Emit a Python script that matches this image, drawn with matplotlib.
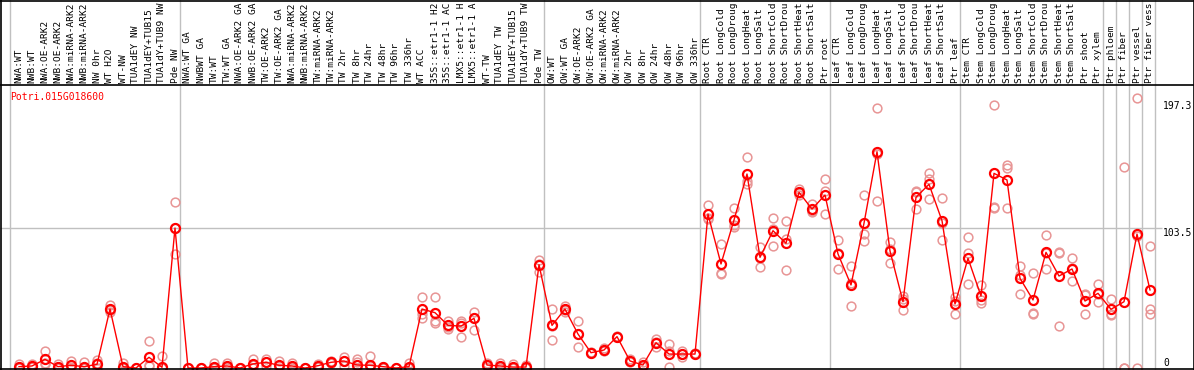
import matplotlib
matplotlib.use("Agg")
import matplotlib.pyplot as plt
from matplotlib.lines import Line2D
import numpy as np

W, H = 1194, 370
HDR = 85          # header height in px
MONO = "DejaVu Sans Mono"

gene = "Potri.015G018600"

labels = [
    "NWA:WT", "NWB:WT", "NWA:OE-ARK2", "NWB:OE-ARK2", "NWA:miRNA-ARK2", "NWB:miRNA-ARK2",
    "NW 0hr", "WT H2O", "WT-NW", "TUA1dEY NW", "TUA1dEY+TUB15 NW", "TUA1dY+TUB9 NW", "Pde NW",
    "NWA:WT GA", "NWBWT GA", "TW:WT", "TW:WT GA", "NWA:OE-ARK2 GA", "NWB:OE-ARK2 GA",
    "TW:OE-ARK2", "TW:OE-ARK2 GA", "NWA:miRNA-ARK2", "NWB:miRNA-ARK2", "TW:miRNA-ARK2",
    "TW:miRNA-ARK2", "TW 2hr", "TW 8hr", "TW 24hr", "TW 48hr", "TW 96hr", "TW 336hr",
    "WT ACC", "35S::etr1-1 H2O", "35S::etr1-1 ACC", "LMX5::etr1-1 H2O", "LMX5::etr1-1 ACC",
    "WT-TW", "TUA1dEY TW", "TUA1dEY+TUB15 TW", "TUA1dY+TUB9 TW", "Pde TW",
    "OW:WT", "OW:WT GA", "OW:OE-ARK2", "OW:OE-ARK2 GA", "OW:miRNA-ARK2", "OW:miRNA-ARK2",
    "OW 2hr", "OW 8hr", "OW 24hr", "OW 48hr", "OW 96hr", "OW 336hr",
    "Root CTR", "Root LongCold", "Root LongDrought", "Root LongHeat", "Root LongSalt",
    "Root ShortCold", "Root ShortDrought", "Root ShortHeat", "Root ShortSalt", "Ptr root",
    "Leaf CTR", "Leaf LongCold", "Leaf LongDrought", "Leaf LongHeat", "Leaf LongSalt",
    "Leaf ShortCold", "Leaf ShortDrought", "Leaf ShortHeat", "Leaf ShortSalt", "Ptr leaf",
    "Stem CTR", "Stem LongCold", "Stem LongDrought", "Stem LongHeat", "Stem LongSalt",
    "Stem ShortCold", "Stem ShortDrought", "Stem ShortHeat", "Stem ShortSalt", "Ptr shoot",
    "Ptr xylem", "Ptr phloem", "Ptr fiber", "Ptr vessel", "Ptr fiber vessel",
]

means = [
    1, 1.5, 6.4, 1, 2, 1, 2.7, 43.6, 1, 0, 7.9, 0.5, 103.5,
    0, 0, 1, 1.5, 0, 3, 4.2, 2, 1.5, 0, 1.7, 4.2, 5.2, 2.2, 2, 1, 0, 1,
    43.6, 40.9, 31.5, 31, 36.7, 2.2, 1.5, 0.7, 0.7, 76.4,
    31.5, 43.6, 25.1, 11.3, 13.3, 23.2, 5.2, 2.2, 18.7, 10.3, 10.3, 10.3,
    113.8, 76.9, 109.4, 143.4, 81.8, 101.5, 92.2, 129.9, 117.5, 127.9,
    84.3, 61.4, 107, 159.9, 86.5, 49, 126.2, 135.8, 108.9, 47.3,
    81.1, 53.2, 143.9, 139, 66.3, 50.3, 85.5, 68, 73.2, 49.5,
    55.2, 43.4, 49, 99, 57.7,
]

rep_a = [
    3, 3, 12.6, 3, 5, 4.5, 6, 46.5, 4, 0, 20, 8.9, 122.7,
    0, 0, 4, 4, 0, 6.9, 6.9, 5.5, 4, 0, 3, 5, 8.4, 6.4, 9, 1, 0, 3.5,
    52.3, 52.3, 35, 34.5, 41.6, 3.5, 4, 3, 2.2, 79.8,
    43.6, 46.1, 35, 11, 14.8, 23.2, 6.5, 4.5, 21.2, 18, 12.3, 11,
    120.5, 91.7, 118, 155.7, 89.7, 110.7, 108.4, 132.1, 121, 139.4,
    94.6, 75.4, 127.9, 192, 93.4, 53, 131, 143.9, 125.5, 52.3,
    96.6, 61.4, 194.4, 150, 75.4, 70.5, 98.3, 86, 81.1, 54.7,
    62.1, 50.8, 148.3, 199.3, 90.2,
]

rep_b = [
    1, 1, 3, 0.5, 1, 0, 4, 41.6, 0, 0, 1.5, 0, 84,
    0, 0, 0, 0, 0, 2, 1.5, 1.5, 0.5, 0, 1, 4, 1.5, 4.5, 1.5, 0.5, 0, 0,
    36.7, 35, 29, 23, 28, 2, 1, 0, 0, 71.2,
    20.7, 41.6, 15.8, 11.5, 12.3, 23, 4.5, 0.5, 15.8, 12.3, 8.4, 10,
    109.9, 70, 104.5, 136, 74.4, 90.2, 72.4, 128, 115.6, 113.8,
    73.2, 45.8, 94.1, 123.5, 77.9, 42.9, 117.5, 139.4, 107, 40,
    85.3, 47.8, 118.8, 147.6, 54.7, 40, 72.9, 85, 64.3, 40,
    48.5, 40, 0, 0, 43.6,
]

rep_c = [
    0, 0.5, 3.5, 0, 0, 0, 0, 42.7, 0, 0, 2, 0, 103.8,
    0, 0, 0, 0.5, 0, 0, 4.2, 0, 0, 0, 1, 3.5, 5.5, 0, 0, 0, 0, 0,
    40, 33, 30, 33, 37, 1, 0, 0, 0, 77,
    31, 43, 25, 11.3, 13, 23.5, 5, 1.5, 19, 0.5, 10, 10,
    111, 69.5, 106, 138, 81, 103, 95, 129.5, 116, 131,
    85, 63, 99, 158, 88, 51, 130, 124.6, 94.6, 49.5,
    62.1, 50.5, 118.5, 118, 69, 40.5, 85.3, 31, 74, 53.8,
    55, 39.4, 0, 97.7, 40,
]

# group separators sit just after these points
group_ends = [12, 40, 52, 62, 72, 83, 84, 85, 86, 87]

# header only has room for this many characters
MAX_CHARS = 14

x = np.arange(len(labels))

# pixel layout: point i sits at px 19 + 13*i, value 0 at px row 368
K = 1.3527
xlim = (-19 / 13, (W - 19) / 13)
ylim = (-(H - 368) / K, (368 - HDR) / K)

fig = plt.figure(figsize=(W / 100, H / 100), dpi=100)
fig.patch.set_facecolor("white")

ax = fig.add_axes([0, 0, 1, (H - HDR) / H])
hax = fig.add_axes([0, (H - HDR) / H, 1, HDR / H])
for a in (ax, hax):
    a.set_xlim(*xlim)
    a.axis("off")
ax.set_ylim(*ylim)
hax.set_ylim(0, 1)

grey = "#C0C0C0"
seps = [-0.7] + [g + 0.4 for g in group_ends]
for s in seps:
    ax.axvline(s, color=grey, lw=1, zorder=0)
    hax.axvline(s, color=grey, lw=1, zorder=0)
ax.hlines(103.5, xlim[0], (1162 - 19) / 13, color=grey, lw=1, zorder=0)

# header labels
for i, lab in enumerate(labels):
    hax.text(i, 2 / HDR, lab[:MAX_CHARS].rstrip(), rotation=90, ha="center",
             va="bottom", fontsize=6.8, family=MONO, color="black",
             transform=hax.get_xaxis_transform())

# replicates
pink = "#E89595"
for reps in (rep_a, rep_b, rep_c):
    ax.plot(x, reps, ls="none", marker="o", ms=6.3, mfc="none",
            mec=pink, mew=1.1, zorder=2, clip_on=False)

ax.plot(x, means, color="red", lw=1, zorder=3)
ax.plot(x, means, ls="none", marker="o", ms=6.5, mfc="none",
        mec="red", mew=1.6, zorder=4, clip_on=False)

fig.text(10 / W, 1 - 97 / H, gene, color="red", fontsize=7, family=MONO,
         ha="left", va="center")

lab_x = (1163 - 19) / 13
ax.text(lab_x, 197.3, "197.3", fontsize=7, family=MONO, ha="left", va="top")
ax.text(lab_x, 103.5, "103.5", fontsize=7, family=MONO, ha="left", va="top")
ax.text(lab_x, 0, "0", fontsize=7, family=MONO, ha="left", va="bottom")

# frame
for seg in [((0, 1), (1 - 0.5 / H, 1 - 0.5 / H)),
            ((0, 1), (1 - HDR / H, 1 - HDR / H)),
            ((0, 1), (1.5 / H, 1.5 / H)),
            ((0.5 / W, 0.5 / W), (0, 1)),
            ((1 - 0.5 / W, 1 - 0.5 / W), (0, 1))]:
    fig.add_artist(Line2D(seg[0], seg[1], color="black", lw=1.2,
                          transform=fig.transFigure))

fig.savefig("out.png", dpi=100, facecolor="white")
